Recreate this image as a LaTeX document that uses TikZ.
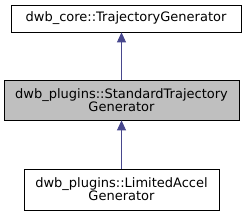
\documentclass[tikz,border=0pt]{standalone}
\usepackage{fontspec}
\setmainfont{DejaVu Sans}
\usetikzlibrary{arrows.meta,positioning}
\definecolor{edgeblue}{RGB}{25,25,112}
\definecolor{basegray}{RGB}{191,191,191}

\begin{document}
\begin{tikzpicture}[
    x=1pt,y=1pt,
    cls/.style={draw,fill=white,inner sep=0pt,thick,
                font=\fontsize{13}{13}\selectfont,align=center},
    arr/.style={{Triangle[length=10pt,width=9pt]}-,edgeblue!80,thick},
  ]
  \useasboundingbox (0,0) rectangle (244,216);

  %% base class
  \node[cls,minimum width=230pt,minimum height=27pt]
    (core) at (126,197.5) {dwb\_core::TrajectoryGenerator};

  %% the class itself
  \node[cls,fill=basegray,minimum width=235pt,minimum height=40pt]
    (std) at (121.5,116) {dwb\_plugins::StandardTrajectory\\Generator};

  %% derived class
  \node[cls,minimum width=195pt,minimum height=41pt]
    (lim) at (121.5,26.5) {dwb\_plugins::LimitedAccel\\Generator};

  %% inheritance
  \draw[arr] (std.north |- core.south) -- (std.north);
  \draw[arr] (std.south) -- (lim.north);
\end{tikzpicture}
\end{document}
